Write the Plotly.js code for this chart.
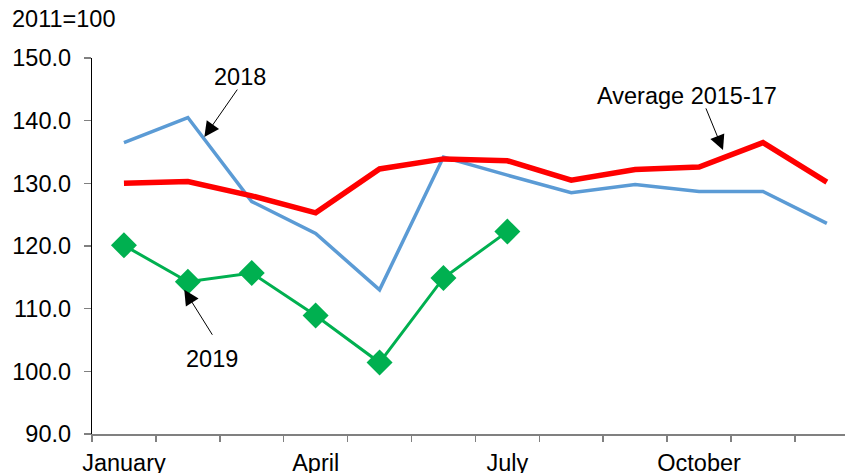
<!DOCTYPE html>
<html>
<head>
<meta charset="utf-8">
<script src="https://cdn.plot.ly/plotly-3.0.1.min.js"></script>
<style>html,body{margin:0;padding:0;background:#fff;}#chart{width:845px;height:473px;}</style>
</head>
<body>
<div id="chart"></div>
<script>
const months = ['January','February','March','April','May','June','July','August','September','October','November','December'];
const tickLabels = ['January','','','April','','','July','','','October','',''];
const avg2015_17 = [130.0, 130.3, 128.0, 125.3, 132.3, 133.9, 133.6, 130.5, 132.2, 132.6, 136.5, 130.2];
const y2018 = [136.5, 140.5, 127.1, 122.0, 113.0, 134.2, 131.3, 128.5, 129.8, 128.7, 128.7, 123.6];
const y2019 = [120.1, 114.3, 115.7, 108.9, 101.4, 114.9, 122.3];
const unitLabel = '2011=100';

const FONT = 'Liberation Sans, Arial, sans-serif';
const FS = 23.5;

const traces = [
  {x: months, y: y2018, type: 'scatter', mode: 'lines', line: {color: '#5B9BD5', width: 3.5}, name: '2018'},
  {x: months, y: avg2015_17, type: 'scatter', mode: 'lines', line: {color: '#FF0000', width: 5.5}, name: 'Average 2015-17'},
  {x: months.slice(0, y2019.length), y: y2019, type: 'scatter', mode: 'lines+markers',
   line: {color: '#00B050', width: 3}, marker: {symbol: 'diamond', size: 20, color: '#00B050'}, name: '2019'}
];

function arrow(tx, ty, ax, ay) {
  return {x: tx, y: ty, ax: ax, ay: ay, xref: 'x', yref: 'y', axref: 'x', ayref: 'y',
          text: '', showarrow: true, arrowhead: 2, arrowsize: 3, arrowwidth: 1, arrowcolor: '#000', standoff: 0, startstandoff: 0};
}
function label(t, x, y) {
  return {x: x, y: y, xref: 'x', yref: 'y', text: t, showarrow: false, font: {family: FONT, size: FS, color: '#000'}, xanchor: 'center', yanchor: 'middle'};
}

const layout = {
  width: 845, height: 473,
  margin: {l: 92, r: 0, t: 58, b: 39},
  paper_bgcolor: '#fff', plot_bgcolor: '#fff',
  showlegend: false,
  font: {family: FONT, size: FS, color: '#000'},
  xaxis: {
    type: 'category', categoryorder: 'array', categoryarray: months,
    tickvals: months, ticktext: tickLabels, tickangle: 0, automargin: false,
    range: [-0.5, 11.284], tickson: 'boundaries',
    ticks: 'outside', ticklen: 6, tickcolor: '#808080', tickwidth: 1.5,
    showline: true, linecolor: '#808080', linewidth: 1.5,
    showgrid: false, zeroline: false, ticklabelstandoff: 7,
    tickfont: {family: FONT, size: FS, color: '#000'}, fixedrange: true
  },
  yaxis: {
    range: [90, 150], dtick: 10, tick0: 90, tickformat: '.1f', automargin: false,
    ticks: 'outside', ticklen: 7, tickcolor: '#808080', tickwidth: 1.5,
    showline: true, linecolor: '#000', linewidth: 1.2,
    showgrid: false, zeroline: false, ticklabelstandoff: 8,
    tickfont: {family: FONT, size: FS, color: '#000'}, fixedrange: true
  },
  annotations: [
    {x: -82/753, y: 1 + 39/376, xref: 'paper', yref: 'paper', text: unitLabel, showarrow: false,
     xanchor: 'left', yanchor: 'middle', font: {family: FONT, size: FS, color: '#000'}},
    label('2018', 1.82, 147.0),
    arrow(1.258, 137.4, 1.79, 145.2),
    label('2019', 1.375, 102.0),
    arrow(0.944, 113.0, 1.398, 105.6),
    label('Average 2015-17', 8.816, 143.9),
    arrow(9.375, 135.3, 9.098, 142.2)
  ]
};

Plotly.newPlot('chart', traces, layout, {displayModeBar: false, staticPlot: true});
</script>
</body>
</html>
